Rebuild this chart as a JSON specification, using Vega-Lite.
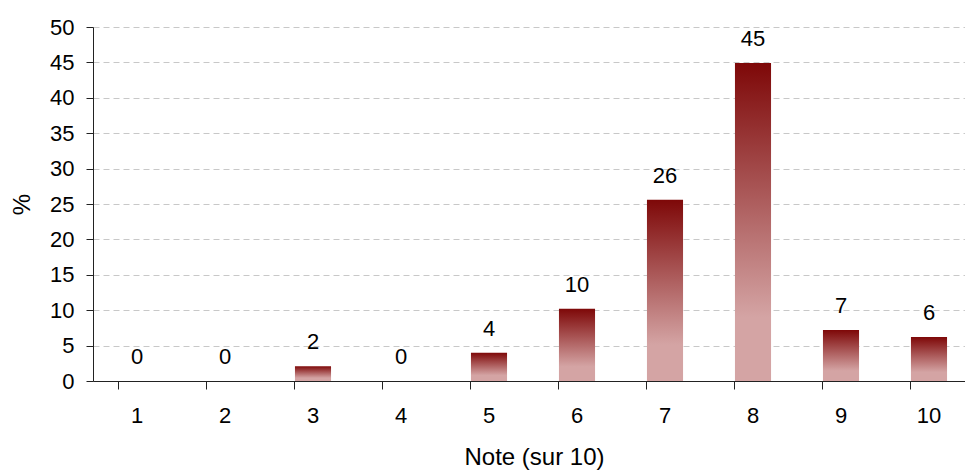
{
  "$schema": "https://vega.github.io/schema/vega-lite/v6.json",
  "autosize": {"type": "none"},
  "padding": {"left": 93, "top": 27, "right": 0, "bottom": 90},
  "width": 880,
  "height": 354,
  "config": {
    "view": {"stroke": null},
    "font": "Liberation Sans",
    "axis": {"labelFont": "Liberation Sans", "titleFont": "Liberation Sans", "labelFontSize": 22, "titleFontSize": 24, "titleFontWeight": "normal", "labelColor": "#000", "titleColor": "#000", "domainColor": "#222", "tickColor": "#222"}
  },
  "data": {
    "values": [
      {"note": "1", "pct": 0},
      {"note": "2", "pct": 0},
      {"note": "3", "pct": 2.1},
      {"note": "4", "pct": 0},
      {"note": "5", "pct": 4.0},
      {"note": "6", "pct": 10.2},
      {"note": "7", "pct": 25.6},
      {"note": "8", "pct": 44.9},
      {"note": "9", "pct": 7.2},
      {"note": "10", "pct": 6.2}
    ]
  },
  "encoding": {
    "x": {
      "field": "note", "type": "ordinal", "sort": null,
      "scale": {"paddingInner": 0.59, "paddingOuter": 0.295},
      "axis": {"title": "Note (sur 10)", "labelAngle": 0, "bandPosition": 0, "tickSize": 8, "labelPadding": 16, "titlePadding": 19, "grid": false, "labelFontSize": 22, "titleFontSize": 24, "titleX": 441}
    },
    "y": {
      "field": "pct", "type": "quantitative",
      "scale": {"domain": [0, 50], "nice": false},
      "axis": {"title": "%", "values": [0,5,10,15,20,25,30,35,40,45,50], "tickSize": 7, "labelPadding": 12, "titlePadding": 15, "titleAngle": -90, "grid": true, "gridColor": "#c8c8c8", "gridDash": [6, 4], "gridWidth": 1, "labelFontSize": 22, "titleFontSize": 24}
    }
  },
  "layer": [
    {
      "mark": {
        "type": "bar",
        "fill": {
          "gradient": "linear", "x1": 0, "y1": 0, "x2": 0, "y2": 1,
          "stops": [
            {"offset": 0, "color": "#7e0808"},
            {"offset": 0.8, "color": "#d4a4a4"},
            {"offset": 1, "color": "#d4a4a4"}
          ]
        }
      }
    },
    {
      "mark": {"type": "text", "baseline": "middle", "dy": -24, "fontSize": 22, "font": "Liberation Sans", "color": "#000"},
      "encoding": {"text": {"field": "pct", "type": "quantitative", "format": ".0f"}}
    }
  ]
}
